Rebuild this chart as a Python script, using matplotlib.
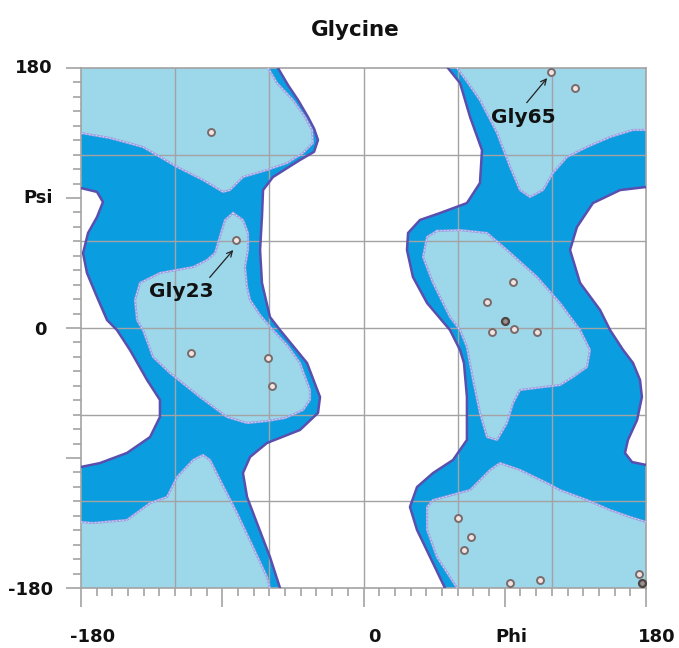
import matplotlib
matplotlib.use("Agg")
import matplotlib.pyplot as plt
from matplotlib.ticker import MultipleLocator

# ---------------- data (phi, psi in degrees) ----------------
# Observed glycine residues
res_phi = [-97, -81, -110, -61, -58, 119.5, 135, 95, 79, 96, 82, 110.5,
           60, 68.5, 64, 93.5, 112.5, 175.5]
res_psi = [136, 61, -17, -21, -40, 177, 166, 32, 18, -1, -3, -3,
           -131.5, -144.5, -153.5, -176.5, -174.5, -170]
# Overlapping residues (two points at one spot)
dup_phi = [90, 177.5]
dup_psi = [5, -176.5]

# Labelled residues: (text position, arrow tail, arrow head)
lab_text = ["Gly23", "Gly65"]
lab_pos = [(-116, 25), (102, 146)]
lab_tail = [(-98, 35), (104, 156)]
lab_head = [(-83, 54), (117, 173)]

# Generously allowed region, left half
ld_right_phi = [-54.5, -48.0, -41.7, -35.4, -31.5, -29.0, -31.5, -40.5, -57.7,
                -64.0, -64.7, -65.9, -64.7, -59.6, -53.2, -36.0, -27.7, -29.0,
                -40.5, -61.5, -72.3, -76.8, -74.2, -67.9, -59.6, -53.2]
ld_right_psi = [180, 168.0, 157.8, 146.1, 138.0, 130.2, 122.0, 116.3, 104.5,
                95.5, 76.8, 54.0, 31.2, 7.6, -1.4, -24.2, -47.8, -58.8,
                -70.6, -79.6, -89.3, -100.4, -117.0, -135.0, -158.5, -180]
ld_left_phi = [-180, -167.9, -150.7, -136.0, -129.7, -129.7, -137.9, -148.8,
               -157.1, -163.4, -169.8, -176.2, -178.7, -175.5, -169.8, -166.0,
               -169.8, -180]
ld_left_psi = [-96.2, -93.5, -86.5, -75.5, -61.6, -49.8, -36.0, -15.2,
               -1.4, 5.5, 21.5, 38.1, 51.9, 65.8, 76.8, 87.2, 94.2, 96.9]

# Generously allowed region, right half
rd_left_phi = [53.8, 61.5, 67.9, 75.5, 74.2, 65.9, 48.8, 36.0, 28.4, 27.7,
               31.5, 40.5, 55.1, 61.5, 64.0, 65.9, 65.9, 57.0, 44.3, 34.1,
               29.6, 34.1, 42.4, 51.9]
rd_left_psi = [180, 169.6, 146.1, 123.2, 100.4, 86.5, 79.6, 74.8, 65.8, 54.0,
               35.3, 17.3, -1.4, -15.2, -24.2, -47.8, -77.5, -91.4, -100.4,
               -110.1, -123.9, -139.8, -158.5, -180]
rd_right_phi = [180, 171.1, 166.6, 168.5, 174.3, 177.4, 176.2, 171.7, 165.4,
                157.1, 150.7, 138.0, 131.6, 136.0, 146.2, 163.5, 180]
rd_right_psi = [-94.8, -92.8, -86.5, -77.5, -63.7, -47.8, -36.0, -24.2, -15.2,
                -1.4, 12.5, 31.2, 54.0, 69.9, 86.5, 95.5, 97.6]

# Allowed regions (core)
l1_phi = [-60.8, -55.1, -44.9, -37.3, -32.8, -32.2, -38.5, -48.7, -61.5,
          -76.8, -85.1, -89.5, -102.3, -118.8, -140.5, -161.5, -180]
l1_psi = [180, 169.6, 157.8, 146.1, 137.1, 128.1, 121.2, 114.2, 109.4,
          104.5, 95.5, 94.2, 102.5, 111.5, 125.3, 131.5, 135.0]

l2_phi = [-83.1, -76.8, -73.6, -73.6, -75.5, -74.2, -72.3, -65.9, -57.7,
          -48.7, -40.5, -34.1, -34.1, -38.5, -50.0, -61.5, -74.2, -87.0,
          -104.2, -123.3, -134.1, -140.5, -144.3, -145.6, -142.4, -129.7,
          -108.6, -99.7, -94.6, -92.7, -90.8, -88.2, -83.1]
l2_psi = [79.6, 74.8, 65.8, 54.0, 42.2, 28.4, 19.4, 9.0, -1.4,
          -11.8, -24.2, -42.9, -49.8, -56.8, -62.3, -64.4, -65.8, -61.6,
          -47.8, -31.2, -20.1, -1.4, 5.5, 19.4, 31.2, 38.1,
          42.2, 47.1, 51.9, 58.8, 65.8, 74.8, 79.6]

l3_phi = [-180, -172.4, -150.7, -136.0, -125.2, -118.8, -108.6, -102.3,
          -97.8, -91.4, -80.6, -70.4, -61.5, -59.6]
l3_psi = [-134.3, -135.0, -132.9, -121.2, -117.0, -103.2, -91.4, -87.9,
          -91.4, -105.2, -128.1, -151.6, -172.4, -180]

r1_phi = [59.6, 66.6, 74.2, 85.1, 93.4, 99.7, 106.1, 114.4, 120.7, 129.7,
          142.4, 157.1, 171.7, 180]
r1_psi = [180, 169.6, 157.8, 135.0, 111.5, 95.5, 90.7, 95.5, 107.3, 118.4,
          125.3, 132.2, 137.1, 137.1]

r2_phi = [46.8, 61.5, 78.7, 91.4, 110.6, 125.2, 138.0, 144.3, 142.4, 133.5,
          125.2, 99.7, 95.3, 91.4, 85.1, 78.7, 74.2, 69.8, 65.9, 61.5,
          55.1, 44.3, 37.9, 40.5, 46.8]
r2_psi = [67.2, 67.8, 65.8, 54.0, 35.3, 17.3, -1.4, -15.2, -27.0, -33.9,
          -39.5, -42.9, -51.9, -65.8, -77.5, -75.5, -58.8, -36.0, -13.2, -1.4,
          7.6, 31.2, 49.2, 63.0, 67.2]

r3_phi = [180, 169.8, 157.1, 142.4, 125.2, 116.9, 99.7, 87.0, 80.6, 67.9,
          44.3, 40.5, 40.5, 46.8, 59.6]
r3_psi = [-134.3, -130.8, -126.0, -119.1, -112.2, -107.3, -98.3, -93.5,
          -98.3, -112.2, -119.1, -123.9, -139.8, -158.5, -180]

# Axis labels
xlab_vals = [-180, 0, 90, 180]
xlab_text = ["-180", "0", "Phi", "180"]
ylab_vals = [180, 90, 0, -180]
ylab_text = ["180", "Psi", "0", "-180"]

# ---------------- styling ----------------
LIGHT = "#9dd7ea"
DARK = "#0a9de0"
OUTER = "#5a4fae"
INNER = "#9fa3e3"
GRID = "#a3a3a3"

fig = plt.figure(figsize=(6.79, 6.48), dpi=100)
W, H = 679, 648
ax = fig.add_axes([81 / W, 60 / H, 565 / W, 520 / H])
ax.set_xlim(-180, 180)
ax.set_ylim(-180, 180)

# generously allowed (dark) areas
ax.fill(ld_right_phi + [-180] + ld_left_phi + [-180],
        ld_right_psi + [-180] + ld_left_psi + [180],
        color=DARK, lw=0, zorder=1)
ax.fill(rd_left_phi + [180] + rd_right_phi + [180],
        rd_left_psi + [-180] + rd_right_psi + [180],
        color=DARK, lw=0, zorder=1)

# allowed (light) areas, closed along the frame where needed
ax.fill(l1_phi + [-180], l1_psi + [180], color=LIGHT, lw=0, zorder=2)
ax.fill(l2_phi, l2_psi, color=LIGHT, lw=0, zorder=2)
ax.fill(l3_phi + [-180], l3_psi + [-180], color=LIGHT, lw=0, zorder=2)
ax.fill(r1_phi + [180], r1_psi + [180], color=LIGHT, lw=0, zorder=2)
ax.fill(r2_phi, r2_psi, color=LIGHT, lw=0, zorder=2)
ax.fill(r3_phi + [180], r3_psi + [-180], color=LIGHT, lw=0, zorder=2)

# grid every 60 degrees
for v in range(-120, 180, 60):
    ax.axvline(v, color=GRID, lw=1.0, zorder=2.5)
    ax.axhline(v, color=GRID, lw=1.0, zorder=2.5)

# contour lines
for px, py in [(ld_right_phi, ld_right_psi), (ld_left_phi, ld_left_psi),
               (rd_left_phi, rd_left_psi), (rd_right_phi, rd_right_psi)]:
    ax.plot(px, py, color=OUTER, lw=1.8, solid_joinstyle="round", zorder=3)
for px, py in [(l1_phi, l1_psi), (l2_phi, l2_psi), (l3_phi, l3_psi),
               (r1_phi, r1_psi), (r2_phi, r2_psi), (r3_phi, r3_psi)]:
    ax.plot(px, py, color=INNER, lw=1.6, solid_joinstyle="round", zorder=3)
    ax.plot(px, py, color="white", lw=0.5, ls=(0, (2, 3)), alpha=0.8, zorder=3.1)

# residues
ax.plot(res_phi, res_psi, ls="none", marker="o", ms=5, mfc="#f3e4e4",
        mec="#7a6a6a", mew=1.4, zorder=5)
ax.plot(dup_phi, dup_psi, ls="none", marker="o", ms=5, mfc="#9a9090",
        mec="#4e4444", mew=1.6, zorder=5)

for t, p, tail, head in zip(lab_text, lab_pos, lab_tail, lab_head):
    ax.annotate("", xy=head, xytext=tail,
                arrowprops=dict(arrowstyle="->", color="#222222", lw=0.9,
                                shrinkA=0, shrinkB=0), zorder=6)
    ax.text(p[0], p[1], t, ha="center", va="center", fontsize=14.5,
            fontweight="bold", family="DejaVu Sans", color="#111111", zorder=6)

# frame and ticks
for s in ax.spines.values():
    s.set_color(GRID)
    s.set_linewidth(1.2)
ax.set_xticks([-180, -90, 0, 90, 180])
ax.set_yticks([-180, -90, 0, 90, 180])
ax.xaxis.set_minor_locator(MultipleLocator(10))
ax.yaxis.set_minor_locator(MultipleLocator(10))
ax.set_xticklabels([])
ax.set_yticklabels([])
ax.tick_params(axis="x", which="major", length=14, width=1.2, color=GRID,
               direction="out")
ax.tick_params(axis="x", which="minor", length=6, width=1.2, color=GRID,
               direction="out")
ax.tick_params(axis="y", which="major", length=11, width=1.2, color=GRID,
               direction="out")
ax.tick_params(axis="y", which="minor", length=5.5, width=1.2, color=GRID,
               direction="out")

lab_font = dict(fontsize=13, fontweight="bold", family="DejaVu Sans",
                color="#111111")
x_dx = [12, 11, 7, 11]
for v, t, dx in zip(xlab_vals, xlab_text, x_dx):
    ax.annotate(t, xy=(v, 0), xycoords=("data", "axes fraction"),
                xytext=(dx, -49), textcoords="offset pixels",
                ha="center", va="center", **lab_font)
y_dx = [-28, -28, -34, -28]
y_dy = [0, 0, -2, -2]
for v, t, dx, dy in zip(ylab_vals, ylab_text, y_dx, y_dy):
    ax.annotate(t, xy=(0, v), xycoords=("axes fraction", "data"),
                xytext=(dx, dy), textcoords="offset pixels",
                ha="right", va="center", **lab_font)

fig.text(355 / W, 1 - 30 / H, "Glycine", ha="center", va="center",
         fontsize=15.5, fontweight="bold", family="DejaVu Sans",
         color="#111111")

fig.savefig("out.png", dpi=100, facecolor="white")
